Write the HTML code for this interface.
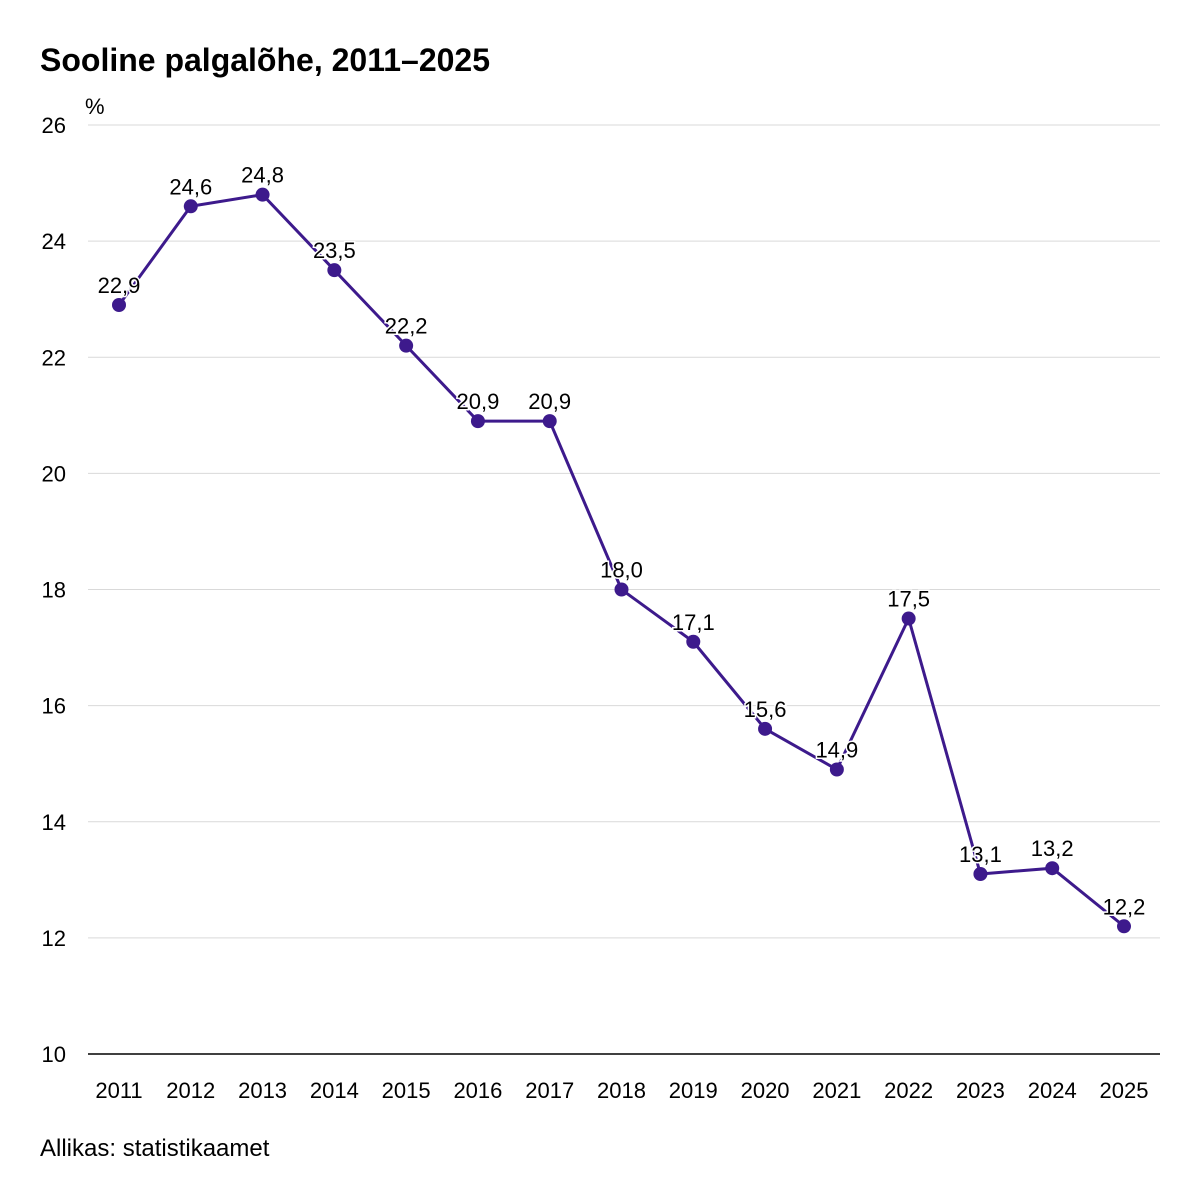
<!DOCTYPE html>
<html><head><meta charset="utf-8"><style>
body{margin:0;background:#fff;font-family:"Liberation Sans",Arial,sans-serif}
svg{display:block}
</style></head><body>
<svg id="chart" width="1200" height="1200">
<text x="40" y="71" font-size="32" font-weight="bold" fill="#000">Sooline palgalõhe, 2011–2025</text>
<text x="85" y="114" font-size="22" fill="#000">%</text>
<text x="40" y="1156" font-size="24" fill="#000">Allikas: statistikaamet</text>
<g id="grid"></g><g id="xlab"></g><g id="series"></g><g id="labels"></g>
</svg>
<script>
const categories=["2011","2012","2013","2014","2015","2016","2017","2018","2019","2020","2021","2022","2023","2024","2025"];
const values=[22.9,24.6,24.8,23.5,22.2,20.9,20.9,18.0,17.1,15.6,14.9,17.5,13.1,13.2,12.2];
const yTicks=[10,12,14,16,18,20,22,24,26];
const NS="http://www.w3.org/2000/svg";
const y=v=>1054-(v-10)*(1054-125)/16;
const x=i=>119+i*(1124-119)/(categories.length-1);
function mk(t,a,p){const e=document.createElementNS(NS,t);for(const k in a)e.setAttribute(k,a[k]);p.appendChild(e);return e;}
const grid=document.getElementById('grid');
yTicks.forEach(t=>{
 const l=mk('line',{x1:88,x2:1160,y1:y(t),y2:y(t),stroke:t===10?'#000':'#d9d9d9','stroke-width':t===10?1.5:1},grid);
 
 
 const tx=mk('text',{x:66,y:y(t)+8,'text-anchor':'end','font-size':22},grid);tx.textContent=t;
 
 
});
const xl=document.getElementById('xlab');
categories.forEach((c,i)=>{
 const tx=mk('text',{x:x(i),y:1098,'text-anchor':'middle','font-size':22},xl);tx.textContent=c;
 
 
});
const s=document.getElementById('series');
const p=mk('path',{d:values.map((v,i)=>(i?'L':'M')+x(i)+','+y(v)).join(''),fill:'none',stroke:'#3d1a8c','stroke-width':3},s);


const lb=document.getElementById('labels');
values.forEach((v,i)=>{
 const c=mk('circle',{cx:x(i),cy:y(v),r:7,fill:'#3d1a8c'},s);
 
 
 const t=mk('text',{x:x(i),y:y(v)-12,'text-anchor':'middle','font-size':22,fill:'#000',stroke:'#fff','stroke-width':3,'paint-order':'stroke'},lb);
 t.textContent=v.toFixed(1).replace('.',',');
 
 
});
</script>
</body></html>
